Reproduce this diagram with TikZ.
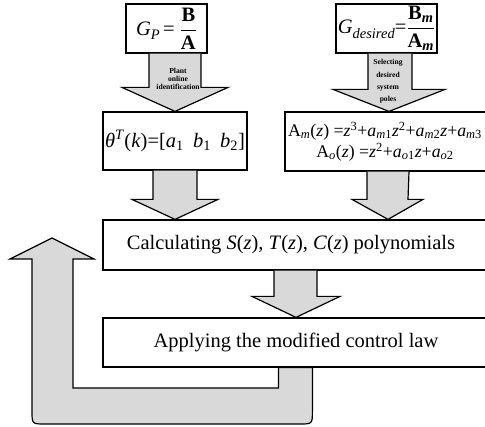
\documentclass[tikz,border=0pt]{standalone}
\usepackage{fontspec}
\setmainfont{Liberation Serif}
\usepackage{amsmath}
\usetikzlibrary{calc}
\tikzset{
  box/.style={draw, line width=1.2pt, fill=white, inner sep=0pt},
  blk/.style={draw, line width=1.2pt, fill=gray!30, line join=miter},
  big/.style={font=\fontsize{20.5}{24}\selectfont},
  small/.style={font=\fontsize{7.6}{8.3}\selectfont\bfseries, align=center},
}
\newcommand\myfr[2]{\ensuremath{\displaystyle\frac{\mbox{#1}}{\mbox{#2}}}}
\newcommand\bigsub[1]{\raisebox{-0.22em}{\fontsize{14.5}{16}\selectfont #1}}
\begin{document}
\begin{tikzpicture}[x=1pt,y=-1pt]
\useasboundingbox (0,0) rectangle (485,427);
\clip (0,0) rectangle (485,427);
% boxes
\node[box, big, minimum width=81, minimum height=49] (gp) at (166.5,28.5)
  {\textit{G}\bigsub{\textit{P}}\,= \myfr{\bfseries B}{\bfseries A}};
\node[box, big, minimum width=101, minimum height=49] (gd) at (386.5,28.5)
  {\textit{G}\bigsub{\textit{desired}}=\myfr{\bfseries B\textsubscript{\textit{m}}}{\bfseries A\textsubscript{\textit{m}}}};
\node[box, big, minimum width=144, minimum height=58] (theta) at (175,141)
  {\textit{θ}\textsuperscript{\textit{T}}(\textit{k})=[\textit{a}\textsubscript{1}\hspace{0.45em}\textit{b}\textsubscript{1}\hspace{0.45em}\textit{b}\textsubscript{2}]};
\node[box, minimum width=208, minimum height=59] (am) at (389,141.5) {};
\node[align=center, font=\fontsize{17.8}{21}\selectfont] (amtext) at ($(am.center)+(-4,0)$)
  {A\textsubscript{\textit{m}}(\textit{z}) =\textit{z}\textsuperscript{3}+\textit{a}\textsubscript{\textit{m}1}\textit{z}\textsuperscript{2}+\textit{a}\textsubscript{\textit{m}2}\textit{z}+\textit{a}\textsubscript{\textit{m}3}\\
   A\textsubscript{\textit{o}}(\textit{z}) =\textit{z}\textsuperscript{2}+\textit{a}\textsubscript{\textit{o}1}\textit{z}+\textit{a}\textsubscript{\textit{o}2}};
\node[box, minimum width=390, minimum height=50] (calc) at (298,245) {};
\node[big] (calctext) at ($(calc.center)+(-7,0)$)
  {Calculating \textit{S}(\textit{z}), \textit{T}(\textit{z}), \textit{C}(\textit{z}) polynomials};
\node[box, minimum width=390, minimum height=49] (apply) at (298,342.5) {};
\node[big] (applytext) at ($(apply.center)+(-2,0)$) {Applying the modified control law};
% block arrows
\draw[blk] ($(theta.north|-gp.south)+(-26,0)$) -- ($(theta.north)+(-26,-24)$) -- ($(theta.north)+(-53,-24)$)
  -- (theta.north) -- ($(theta.north)+(53,-24)$) -- ($(theta.north)+(26,-24)$) -- ($(theta.north|-gp.south)+(26,0)$);
\node[small] (lbl1) at (178,79) {Plant\\online\\identification};
\draw[blk] ($(am.north|-gd.south)+(-21,0)$) -- ($(am.north)+(-21,-22)$) -- ($(am.north)+(-56,-22)$)
  -- (am.north) -- ($(am.north)+(56,-22)$) -- ($(am.north)+(23,-22)$) -- ($(am.north|-gd.south)+(23,0)$);
\node[small, font=\fontsize{7.6}{12.3}\selectfont\bfseries] (lbl2) at (388,81.5) {Selecting\\desired\\system\\poles};
\draw[blk] ($(theta.south)+(-22,0)$) -- ($(theta.south|-calc.north)+(-22,-20)$) -- ($(theta.south|-calc.north)+(-43,-20)$)
  -- (theta.south|-calc.north) -- ($(theta.south|-calc.north)+(43,-20)$) -- ($(theta.south|-calc.north)+(22,-20)$) -- ($(theta.south)+(22,0)$);
\coordinate (c4) at ($(am.south|-calc.north)+(-1,0)$);
\draw[blk] ($(am.south)+(-22,0)$) -- ($(c4)+(-21,-20)$) -- ($(c4)+(-36,-20)$)
  -- (c4) -- ($(c4)+(35,-20)$) -- ($(c4)+(20,-20)$) -- ($(am.south)+(20,0)$);
\draw[blk] ($(calc.south)+(-24,0)$) -- ($(calc.south|-apply.north)+(-24,-21)$) -- ($(calc.south|-apply.north)+(-46,-21)$)
  -- ($(calc.south|-apply.north)+(-2,0)$) -- ($(calc.south|-apply.north)+(42,-21)$) -- ($(calc.south|-apply.north)+(19,-21)$) -- ($(calc.south)+(19,0)$);
% feedback arrow
\coordinate (fb1) at ($(apply.south west)+(176,0)$);
\coordinate (fb2) at ($(apply.south west)+(210,0)$);
\coordinate (fbtip) at (52,238);
\draw[blk] (fbtip) -- (94,259) -- (73,259) -- (73,388) -- (fb1|-0,388) -- (fb1) -- (fb2)
  -- (fb2|-0,411) .. controls (fb2|-0,424) .. ($(fb2|-0,424)+(-13,0)$) -- (45,424)
  .. controls (32,424) .. (32,411) -- (32,259) -- (10,259) -- cycle;
\end{tikzpicture}
\end{document}
